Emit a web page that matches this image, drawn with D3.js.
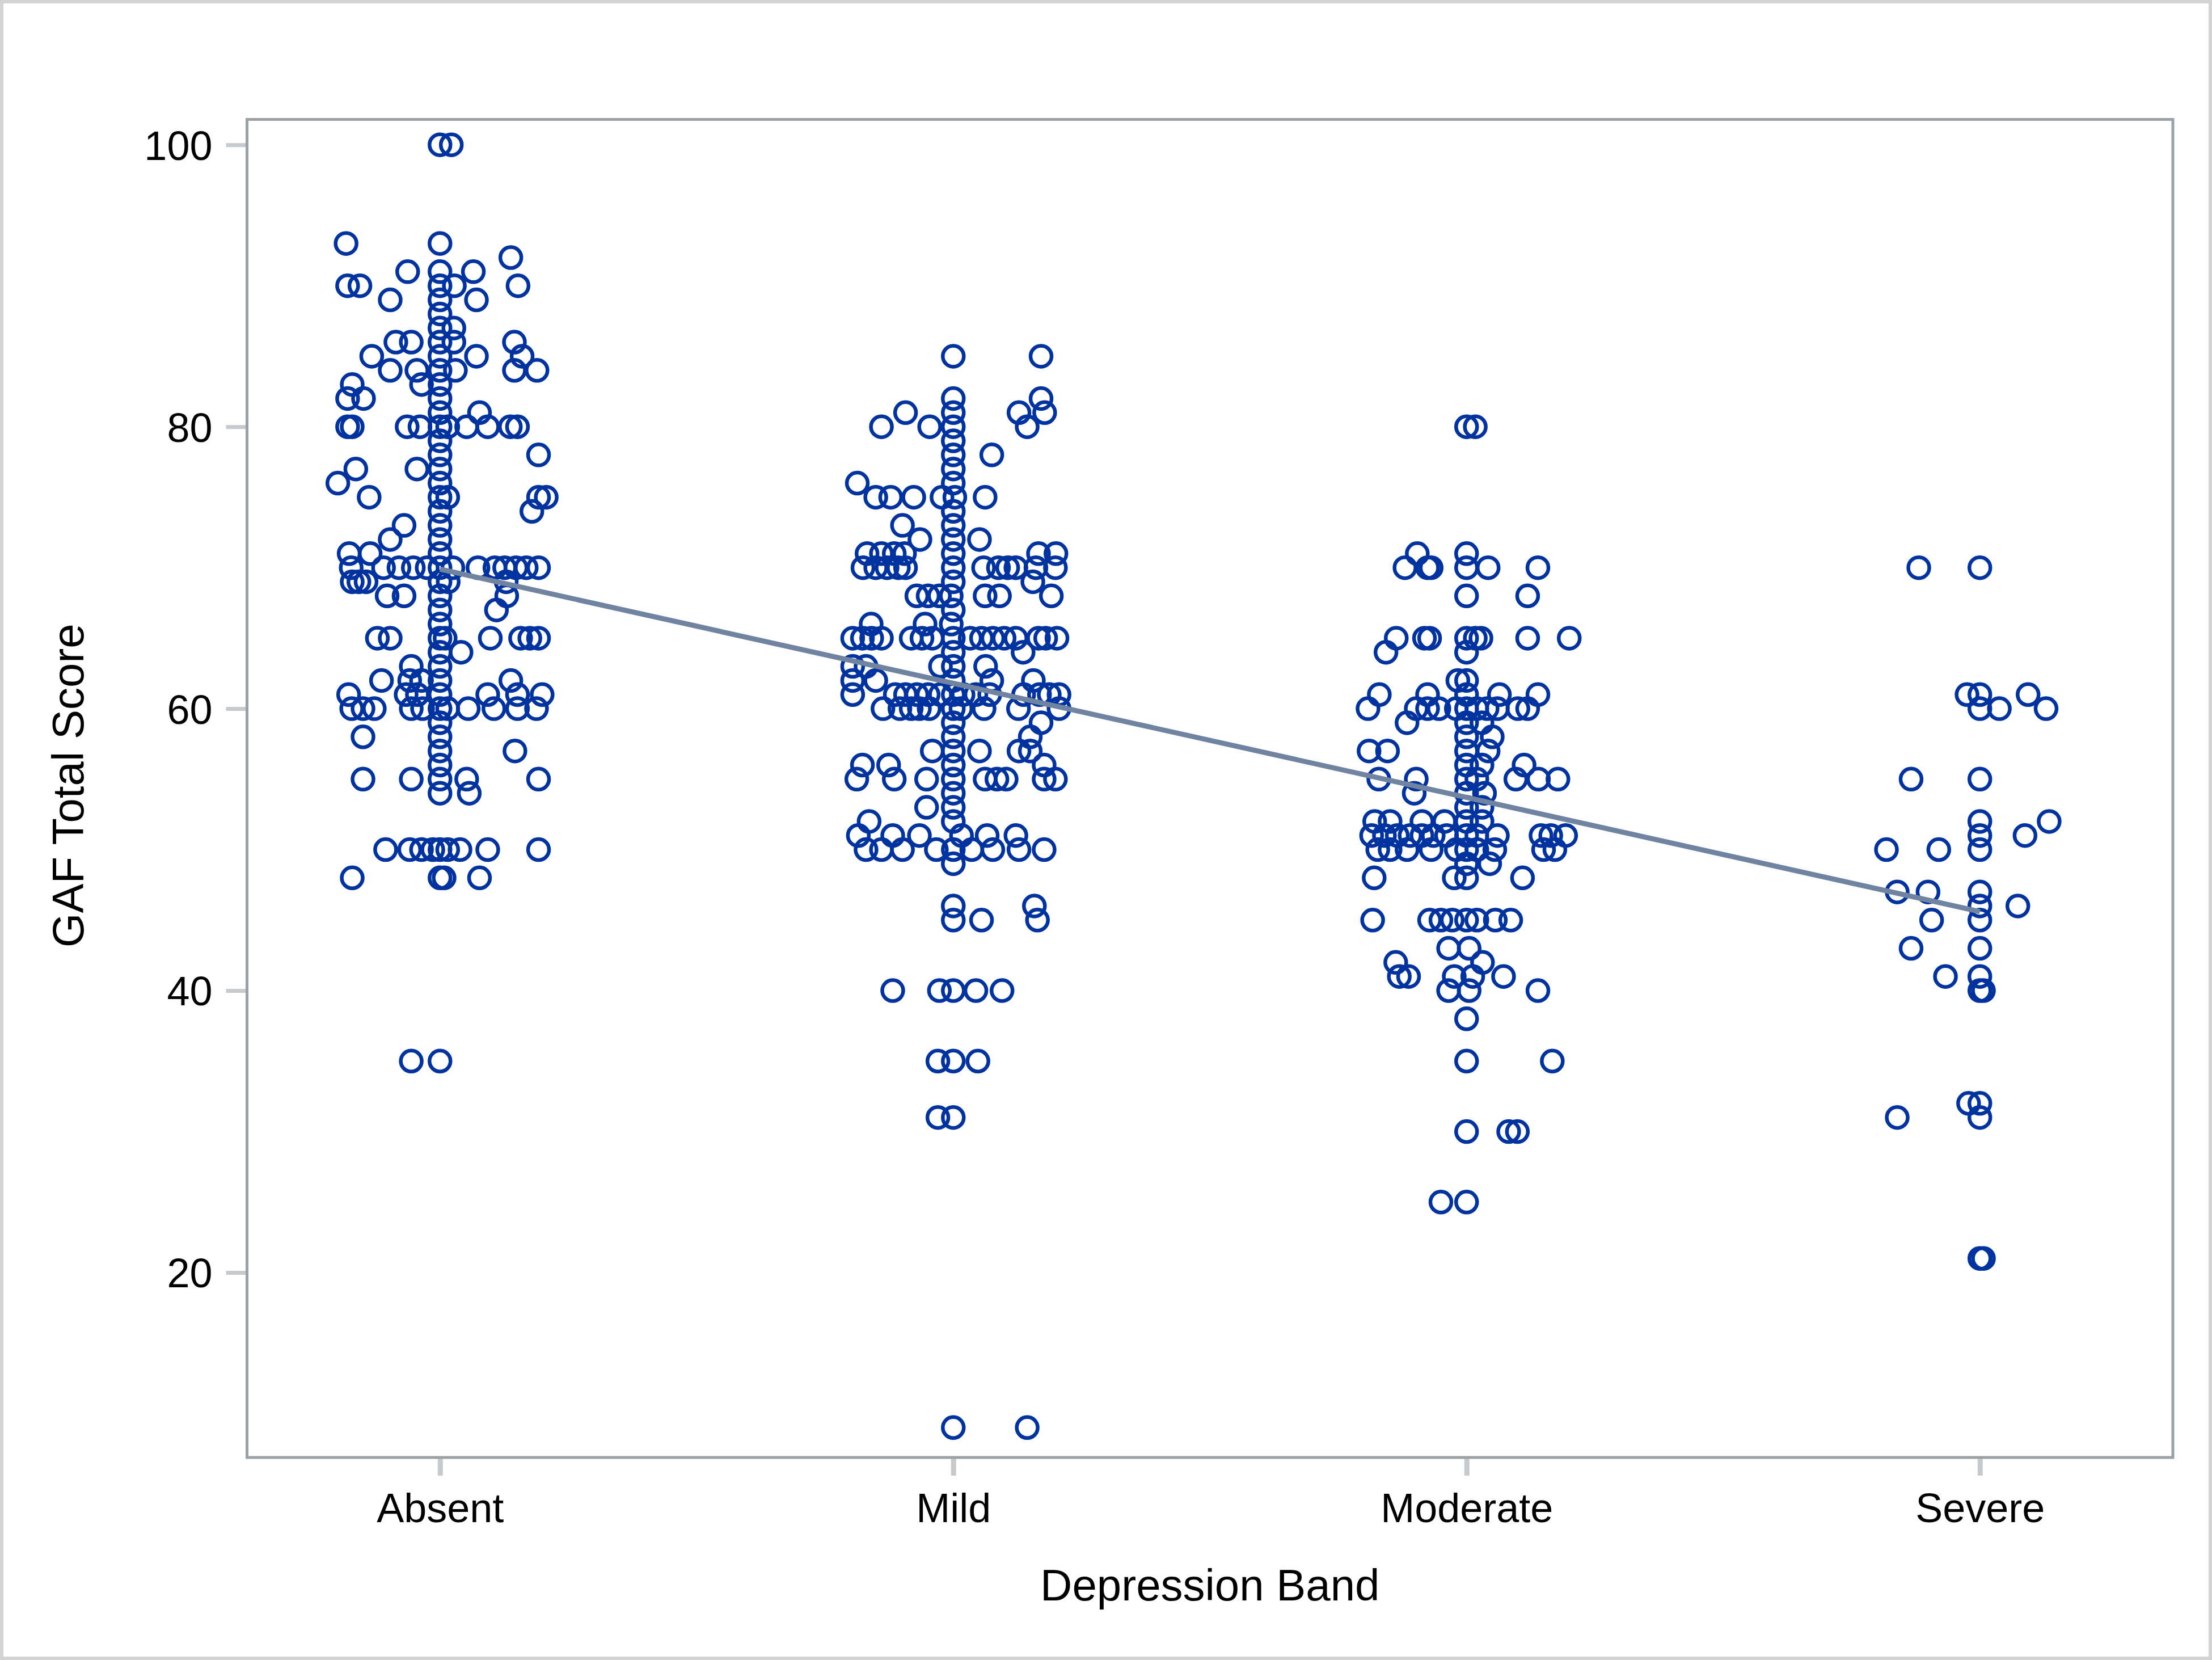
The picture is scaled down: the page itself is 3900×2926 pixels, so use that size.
<!DOCTYPE html>
<html>
<head>
<meta charset="utf-8">
<script src="https://cdn.jsdelivr.net/npm/d3@7/dist/d3.min.js"></script>
<style>
  html, body { margin: 0; padding: 0; background: #ffffff; }
  svg { display: block; }
  text { font-family: "Liberation Sans", Arial, "DejaVu Sans", sans-serif; fill: #000; }
</style>
</head>
<body>
<script>
// ---------------- DATA ----------------
const categories = ["Absent", "Mild", "Moderate", "Severe"];
const yTicks = [20, 40, 60, 80, 100];
const xTitle = "Depression Band";
const yTitle = "GAF Total Score";

// [GAF score, horizontal jitter in % of category spacing]
const absentPts = [
  [100,0],[100,2.2],[93,-18.3],[93,0],[92,13.8],[91,-6.3],[91,6.5],[91,0],
  [90,-18],[90,-15.6],[90,15.2],[90,2.8],[90,0],[89,-9.7],[89,7.1],[89,0],[88,0],
  [87,2.7],[87,0],[86,2.7],[86,-8.6],[86,-5.6],[86,14.5],[86,0],
  [85,-13.3],[85,7.1],[85,16],[85,0],[84,-9.7],[84,-4.5],[84,3],[84,14.5],[84,18.9],[84,0],
  [83,-3.6],[83,-17.1],[83,0],[82,-18],[82,-14.9],[82,0],[81,7.7],[81,0],
  [80,-18],[80,-17.1],[80,-6.4],[80,-3.9],[80,5.2],[80,9.3],[80,13.7],[80,15.1],[80,0],[80,1.5],
  [79,0],[78,19.2],[78,0],[77,-16.4],[77,-4.5],[77,0],[76,-19.9],[76,0],
  [75,-13.8],[75,0],[75,1.5],[75,19.2],[75,20.7],[74,17.9],[74,0],[73,-7],[73,0],
  [72,-9.7],[72,0],[71,-17.7],[71,-13.6],[71,0],
  [70,-17.3],[70,-11],[70,-8],[70,-5.2],[70,-2.5],[70,0],[70,2.5],[70,7.4],[70,10.7],[70,12.6],[70,14.8],[70,16.8],[70,19.2],
  [69,-17.1],[69,-15.8],[69,-14.4],[69,0],[69,1.6],[69,12.9],
  [68,-10.3],[68,-7],[68,13],[68,0],[67,11],[67,0],[66,0],
  [65,-12.2],[65,-9.7],[65,9.8],[65,15.7],[65,17.5],[65,19.2],[65,0],[65,1],
  [64,4.1],[64,0],[63,-5.6],[63,0],[62,-11.4],[62,13.8],[62,-5.9],[62,-3.6],[62,0],
  [61,-17.8],[61,-6.6],[61,-4.4],[61,9.3],[61,15.1],[61,19.9],[61,0],
  [60,-17.2],[60,-15],[60,-12.8],[60,-5.6],[60,-3.4],[60,0],[60,1.5],[60,5.5],[60,10.5],[60,15.1],[60,18.8],
  [59,0],[58,-15],[58,0],[57,0],[57,14.6],[56,0],
  [55,-15],[55,-5.6],[55,0],[55,5.2],[55,19.2],[54,5.7],[54,0],
  [50,-10.6],[50,-5.9],[50,-3.6],[50,-1.4],[50,0],[50,1.5],[50,3.9],[50,9.3],[50,19.2],
  [48,-17.1],[48,0],[48,0.8],[48,7.7],[35,-5.6],[35,0]
];
const mildPts = [
  [85,0],[85,17.1],[82,0],[82,17.1],[81,-9.3],[81,0],[81,12.8],[81,17.8],
  [80,-14],[80,-4.6],[80,0],[80,14.4],[79,0],[78,0],[78,7.5],[77,0],[76,-18.7],[76,0],
  [75,-15.1],[75,-12.2],[75,-7.7],[75,-2.2],[75,0.3],[75,6.2],[74,0],[73,-9.9],[73,0],
  [72,-6.5],[72,5.1],[72,0],[71,-16.8],[71,-14],[71,-11.5],[71,-9.5],[71,0],[71,16.6],[71,20],
  [70,-17.6],[70,-15.1],[70,-12.9],[70,-10.7],[70,-9.3],[70,0],[70,5.9],[70,8.8],[70,10.6],[70,12.2],[70,16.1],[70,19.9],
  [69,15.5],[69,0],[68,-7.1],[68,-4.9],[68,-2.7],[68,-0.4],[68,6.2],[68,9],[68,19.1],
  [67,0],[66,-16],[66,-5.5],[66,-0.4],
  [65,-19.6],[65,-17.7],[65,-15.9],[65,-14],[65,-8.2],[65,-6.1],[65,-4.1],[65,0],[65,3.3],[65,5.5],[65,7.7],[65,9.9],[65,12.2],[65,16.6],[65,18],[65,20.2],
  [64,13.6],[64,0],[63,-19.6],[63,-17],[63,-2.5],[63,0],[63,6.3],
  [62,-19.6],[62,-15.1],[62,7.5],[62,15.6],[62,0],
  [61,-19.6],[61,-11.3],[61,-9.3],[61,-7.1],[61,-4.9],[61,-2.5],[61,0],[61,1.9],[61,4.4],[61,7.1],[61,13.7],[61,16.8],[61,18.7],[61,20.6],
  [60,-13.7],[60,-10.4],[60,-8.2],[60,-6.6],[60,-4.7],[60,0],[60,1.5],[60,6],[60,12.7],[60,20.6],
  [59,0],[59,17.1],[58,0],[58,15],[57,-4.1],[57,0],[57,5.1],[57,12.8],[57,15],
  [56,-17.7],[56,-12.6],[56,0],[56,17.7],
  [55,-18.8],[55,-11.5],[55,-5.2],[55,0],[55,6.2],[55,8.5],[55,10.3],[55,17.7],[55,19.9],
  [54,0],[53,-5.2],[53,0],[52,-16.4],[52,0],
  [51,-18.5],[51,-11.8],[51,-6.6],[51,1.6],[51,6.6],[51,12.2],
  [50,-17],[50,-14],[50,-9.9],[50,-3.3],[50,0],[50,3.6],[50,7.7],[50,12.8],[50,17.7],
  [49,0],[46,0],[46,15.8],[45,0],[45,5.5],[45,16.4],
  [40,-11.8],[40,-2.7],[40,0],[40,4.4],[40,9.5],[35,-3],[35,0],[35,4.8],[31,-3],[31,0],[9,0],[9,14.4]
];
const moderatePts = [
  [80,0],[80,1.7],[71,-9.6],[71,0],[70,-12],[70,-7.6],[70,-6.9],[70,0],[70,4.2],[70,13.9],
  [68,0],[68,11.9],[65,-13.7],[65,-8.2],[65,-7.2],[65,0],[65,1.7],[65,2.8],[65,11.9],[65,20],
  [64,-15.7],[64,0],[62,-1.7],[62,0],[61,-17],[61,-7.6],[61,0],[61,6.4],[61,13.9],
  [60,-19.2],[60,-9.8],[60,-7.6],[60,-5.4],[60,-2],[60,0],[60,2],[60,4],[60,6],[60,10],[60,11.9],
  [59,-11.6],[59,0],[59,3],[58,0],[58,5],[57,-19],[57,-15.4],[57,0],[57,4.2],
  [56,0],[56,11.2],[56,3],[55,-17.1],[55,-9.8],[55,0],[55,2],[55,9.6],[55,14],[55,17.8],
  [54,-10.2],[54,0],[54,3.5],[53,0],[53,3],
  [52,-17.9],[52,-14.9],[52,-8.7],[52,-4.3],[52,0],[52,3],
  [51,-18.5],[51,-16],[51,-13.5],[51,-11],[51,-8.7],[51,-6.5],[51,-3.9],[51,0],[51,2],[51,6],[51,14.5],[51,16.4],[51,19.3],
  [50,-17.3],[50,-14.9],[50,-11.6],[50,-6.9],[50,-2],[50,0],[50,2],[50,5.5],[50,15],[50,17.2],
  [49,4.5],[49,0],[48,-18],[48,-2.4],[48,0],[48,10.9],
  [45,-18.3],[45,-7.2],[45,-5],[45,-2.8],[45,0],[45,2],[45,5.6],[45,8.6],
  [43,-3.5],[43,0.5],[42,-13.8],[42,3.1],[41,-13.1],[41,-11.3],[41,-2.4],[41,1.2],[41,7.2],
  [40,-3.5],[40,0.5],[40,13.9],[38,0],[35,0],[35,16.7],[30,0],[30,8.2],[30,9.9],[25,-5],[25,0]
];
const severePts = [
  [70,-11.9],[70,0],[61,-2.5],[61,0],[61,9.4],[60,0],[60,3.8],[60,12.9],
  [55,-13.4],[55,0],[52,0],[52,13.5],[51,0],[51,8.8],[50,-18.2],[50,-8],[50,0],
  [47,-16.1],[47,-10.1],[47,0],[46,0],[46,7.4],[45,-9.4],[45,0],[43,-13.4],[43,0],
  [41,-6.7],[41,0],[40,0],[40,0.7],[32,-2.2],[32,0],[31,-16.1],[31,0],[21,0],[21,0.7]
];
// fitted regression line (value at first and last category)
const fitCategories = ["Absent", "Severe"];
const fitValues = [69.9, 45.6];

// ---------------- LAYOUT ----------------
const W = 3900, H = 2926;
const plot = { left: 435.5, right: 3831, top: 210.5, bottom: 2569 };

const svg = d3.select("body").append("svg")
  .attr("width", W).attr("height", H);

svg.append("rect").attr("x", 0).attr("y", 0).attr("width", W).attr("height", H).attr("fill", "#fff");
// outer border
svg.append("rect").attr("x", 3).attr("y", 3).attr("width", W - 6).attr("height", H - 6)
  .attr("fill", "none").attr("stroke", "#d3d3d3").attr("stroke-width", 6);

const x = d3.scalePoint().domain(categories).range([plot.left, plot.right]).padding(0.376);
const y = d3.scaleLinear().domain([6.88, 101.8]).range([plot.bottom, plot.top]);

const fontTick = 72, fontTitle = 78;

// Y axis
const yAxis = d3.axisLeft(y).tickValues(yTicks).tickSize(37).tickPadding(24);
const gy = svg.append("g").attr("transform", `translate(${plot.left},0)`).call(yAxis);
gy.select(".domain").remove();
gy.selectAll(".tick line").attr("stroke", "#c6cacd").attr("stroke-width", 7);
gy.selectAll(".tick text").attr("font-size", fontTick).attr("dy", "0.36em")
  .style("font-family", '"Liberation Sans", Arial, sans-serif').attr("fill", "#000");

// X axis
const xAxis = d3.axisBottom(x).tickSize(32).tickPadding(31);
const gx = svg.append("g").attr("transform", `translate(0,${plot.bottom})`).call(xAxis);
gx.select(".domain").remove();
gx.selectAll(".tick line").attr("stroke", "#c6cacd").attr("stroke-width", 9);
gx.selectAll(".tick text").attr("font-size", fontTick).attr("dy", "0.71em")
  .style("font-family", '"Liberation Sans", Arial, sans-serif').attr("fill", "#000");

// Titles
svg.append("text").attr("x", (plot.left + plot.right) / 2).attr("y", 2821)
  .attr("text-anchor", "middle").attr("font-size", fontTitle).text(xTitle);
svg.append("text").attr("transform", `translate(147,${(plot.top + plot.bottom) / 2 - 5}) rotate(-90)`)
  .attr("text-anchor", "middle").attr("font-size", fontTitle).text(yTitle);

// Points
const seriesByCat = { Absent: absentPts, Mild: mildPts, Moderate: moderatePts, Severe: severePts };
const allPts = [];
categories.forEach(c => seriesByCat[c].forEach(p => allPts.push({ cat: c, v: p[0], j: p[1] })));

svg.append("clipPath").attr("id", "clip").append("rect")
  .attr("x", plot.left).attr("y", plot.top).attr("width", plot.right - plot.left).attr("height", plot.bottom - plot.top);

const gp = svg.append("g").attr("clip-path", "url(#clip)");
gp.selectAll("circle").data(allPts).enter().append("circle")
  .attr("cx", d => x(d.cat) + d.j / 100 * x.step())
  .attr("cy", d => y(d.v))
  .attr("r", 18.5)
  .attr("fill", "none")
  .attr("stroke", "#0033a0")
  .attr("stroke-width", 6.5);

// Fit line
const line = d3.line().x(d => x(d[0])).y(d => y(d[1]));
gp.append("path").datum(fitCategories.map((c, i) => [c, fitValues[i]]))
  .attr("d", line).attr("fill", "none").attr("stroke", "#7084a1").attr("stroke-width", 9);

// Frame
svg.append("rect").attr("x", plot.left).attr("y", plot.top)
  .attr("width", plot.right - plot.left).attr("height", plot.bottom - plot.top)
  .attr("fill", "none").attr("stroke", "#9ca1a5").attr("stroke-width", 5);
</script>
</body>
</html>
